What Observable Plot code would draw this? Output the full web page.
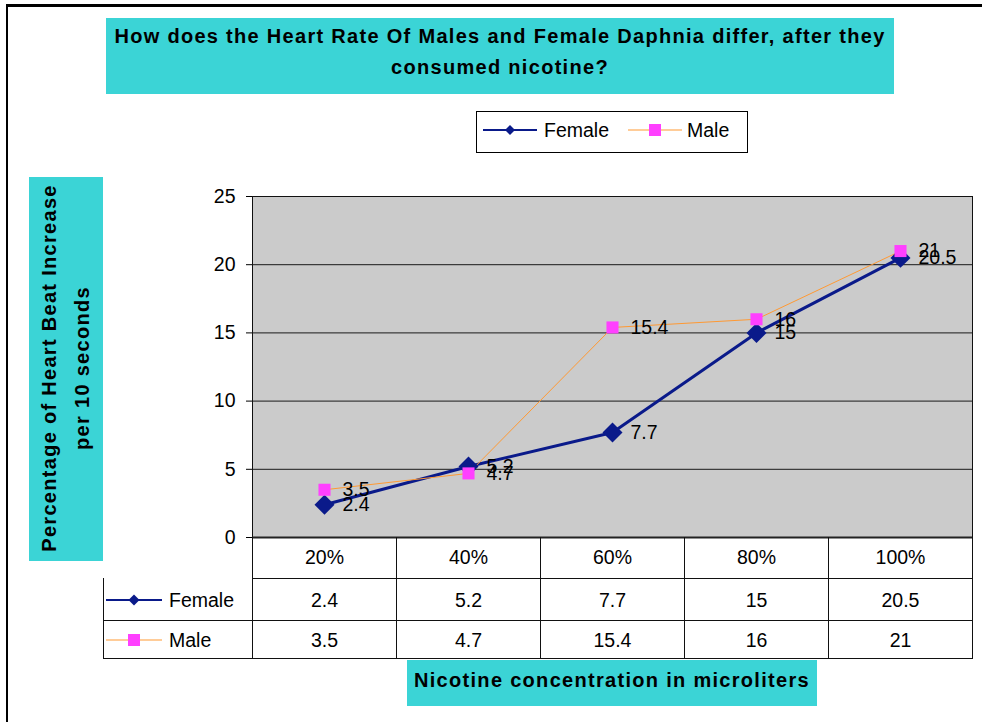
<!DOCTYPE html>
<html>
<head>
<meta charset="utf-8">
<script src="https://cdn.jsdelivr.net/npm/d3@7"></script>
<script src="https://cdn.jsdelivr.net/npm/@observablehq/plot@0.6"></script>
<style>
  html, body { margin: 0; padding: 0; background: #fff; }
  #wrap { position: relative; width: 982px; height: 722px; overflow: hidden; font-family: "Liberation Sans", Arial, sans-serif; color: #000; }
  .abs { position: absolute; box-sizing: border-box; }
  .cyan { background: #3bd4d6; }
  .bold { font-weight: bold; font-size: 20px; letter-spacing: 1.3px; }
  .cell { position: absolute; box-sizing: border-box; font-size: 19.5px; text-align: center; border-color: #111; border-style: solid; border-width: 0; }
</style>
</head>
<body>
<div id="wrap"></div>
<script>
// ---- data ----
const categories = ["20%", "40%", "60%", "80%", "100%"];
const female = [2.4, 5.2, 7.7, 15, 20.5];
const male = [3.5, 4.7, 15.4, 16, 21];
const seriesNames = ["Female", "Male"];
const yTicks = [0, 5, 10, 15, 20, 25];
const titleLines = ["How does the Heart Rate Of Males and Female Daphnia differ, after they", "consumed nicotine?"];
const yTitleLines = ["Percentage of Heart Beat Increase", "per 10 seconds"];
const xTitle = "Nicotine concentration in microliters";

const colors = { Female: "#0a1a8a", Male: "#ff9933" };
const markerFill = { Female: "#0a1a8a", Male: "#ff40ff" };

const rows = categories.flatMap((c, i) => [
  { cat: c, series: "Female", value: female[i] },
  { cat: c, series: "Male", value: male[i] }
]);
const isF = d => d.series === "Female";
const isM = d => d.series === "Male";

const wrap = document.getElementById("wrap");

// ---- chart ----
const chart = Plot.plot({
  width: 982,
  height: 722,
  marginTop: 196,
  marginBottom: 185,
  marginLeft: 252,
  marginRight: 10,
  style: { background: "transparent", fontFamily: "Liberation Sans, Arial, sans-serif", fontSize: "19.5px", color: "#000" },
  x: { type: "point", domain: categories, padding: 0.5, axis: null },
  y: { domain: [0, 25], ticks: yTicks, tickSize: 6, tickPadding: 11, label: null },
  marks: [
    Plot.frame({ fill: "#cbcbcb", stroke: null }),
    Plot.ruleY(yTicks.slice(1), { stroke: "#1a1a1a", strokeWidth: 1 }),
    Plot.frame({ stroke: "#111", strokeWidth: 1 }),
    Plot.ruleY([0], { stroke: "#222", strokeWidth: 2 }),
    Plot.line(rows, { filter: isF, x: "cat", y: "value", stroke: colors.Female, strokeWidth: 3 }),
    Plot.line(rows, { filter: isM, x: "cat", y: "value", stroke: colors.Male, strokeWidth: 1 }),
    Plot.dot(rows, { filter: isF, x: "cat", y: "value", symbol: "diamond2", r: 9, fill: markerFill.Female, stroke: null }),
    Plot.dot(rows, { filter: isM, x: "cat", y: "value", symbol: "square", r: 6.8, fill: markerFill.Male, stroke: null }),
    Plot.text(rows, { filter: isF, x: "cat", y: "value", text: d => String(d.value), dx: 18, textAnchor: "start", fontSize: 19.5, fill: "#000" }),
    Plot.text(rows, { filter: isM, x: "cat", y: "value", text: d => String(d.value), dx: 18, textAnchor: "start", fontSize: 19.5, fill: "#000" })
  ]
});
chart.style.position = "absolute";
chart.style.left = "0px";
chart.style.top = "0px";
wrap.appendChild(chart);

function el(tag, cls, css, html) {
  const e = document.createElement(tag);
  if (cls) e.className = cls;
  Object.assign(e.style, css || {});
  if (html != null) e.innerHTML = html;
  wrap.appendChild(e);
  return e;
}

// outer frame
el("div", "abs", { left: "6px", top: "4px", width: "976px", height: "2.5px", background: "#000" });
el("div", "abs", { left: "6px", top: "4px", width: "1.5px", height: "718px", background: "#000" });

// title
el("div", "abs cyan bold", { left: "106px", top: "18px", width: "788px", height: "76px", textAlign: "center", lineHeight: "31px", paddingTop: "3px" },
  titleLines.join("<br>"));

// y title
el("div", "abs cyan", { left: "29px", top: "177px", width: "74px", height: "384px" });
el("div", "abs bold", { left: "66px", top: "368px", width: "384px", height: "74px", textAlign: "center", lineHeight: "33px",
  transform: "translate(-50%,-50%) rotate(-90deg)", paddingTop: "4px" }, yTitleLines.join("<br>"));

// x title
el("div", "abs cyan bold", { left: "407px", top: "660px", width: "410px", height: "46px", textAlign: "center", lineHeight: "40px", fontSize: "20px" }, xTitle);

// legend key svgs
function keySvg(series, w, markSize) {
  const mid = w / 2;
  const mk = series === "Female"
    ? `<path d="M${mid},${11 - markSize} L${mid + markSize},11 L${mid},${11 + markSize} L${mid - markSize},11Z" fill="${markerFill.Female}"/>`
    : `<rect x="${mid - markSize}" y="${11 - markSize}" width="${markSize * 2}" height="${markSize * 2}" fill="${markerFill.Male}"/>`;
  return `<svg width="${w}" height="22" style="display:block"><line x1="0" x2="${w}" y1="11" y2="11" stroke="${colors[series]}" stroke-width="${series === "Female" ? 2 : 1.2}"/>${mk}</svg>`;
}

// legend box
const legend = el("div", "abs", { left: "476px", top: "111px", width: "272px", height: "42px", border: "1.5px solid #000", background: "#fff" });
const legPos = { Female: { key: 6, text: 67 }, Male: { key: 151, text: 210 } };
seriesNames.forEach(s => {
  const k = document.createElement("div");
  Object.assign(k.style, { position: "absolute", left: legPos[s].key + "px", top: "7px" });
  k.innerHTML = keySvg(s, 54, s === "Female" ? 5 : 6);
  legend.appendChild(k);
  const t = document.createElement("div");
  Object.assign(t.style, { position: "absolute", left: legPos[s].text + "px", top: "5px", fontSize: "19.5px", lineHeight: "26px" });
  t.textContent = s;
  legend.appendChild(t);
});

// data table
const colX = 252, colW = 144, leftX = 103, leftW = 149;
const rowY = [537, 578, 620], rowH = [41, 42, 38];
categories.forEach((c, i) => {
  el("div", "cell", { left: (colX + colW * i) + "px", top: rowY[0] + "px", width: (colW + 1) + "px", height: (rowH[0] + 1) + "px",
    borderLeftWidth: "1px", borderRightWidth: "1px", borderBottomWidth: "1px", lineHeight: rowH[0] + "px" }, c);
});
const vals = { Female: female, Male: male };
seriesNames.forEach((s, r) => {
  const y = rowY[r + 1], h = rowH[r + 1];
  const lc = el("div", "cell", { left: leftX + "px", top: y + "px", width: (leftW + 1) + "px", height: (h + 1) + "px",
    borderLeftWidth: "1px", borderRightWidth: "1px", borderBottomWidth: "1px", textAlign: "left" });
  const k = document.createElement("div");
  Object.assign(k.style, { position: "absolute", left: "2px", top: (h / 2 - 11 + 1) + "px" });
  k.innerHTML = keySvg(s, 56, s === "Female" ? 5.5 : 6);
  lc.appendChild(k);
  const t = document.createElement("div");
  Object.assign(t.style, { position: "absolute", left: "65px", top: "0px", lineHeight: (h + 2) + "px" });
  t.textContent = s;
  lc.appendChild(t);
  vals[s].forEach((v, i) => {
    el("div", "cell", { left: (colX + colW * i) + "px", top: y + "px", width: (colW + 1) + "px", height: (h + 1) + "px",
      borderLeftWidth: "1px", borderRightWidth: "1px", borderBottomWidth: "1px", lineHeight: (h + 2) + "px" }, String(v));
  });
});
</script>
</body>
</html>
